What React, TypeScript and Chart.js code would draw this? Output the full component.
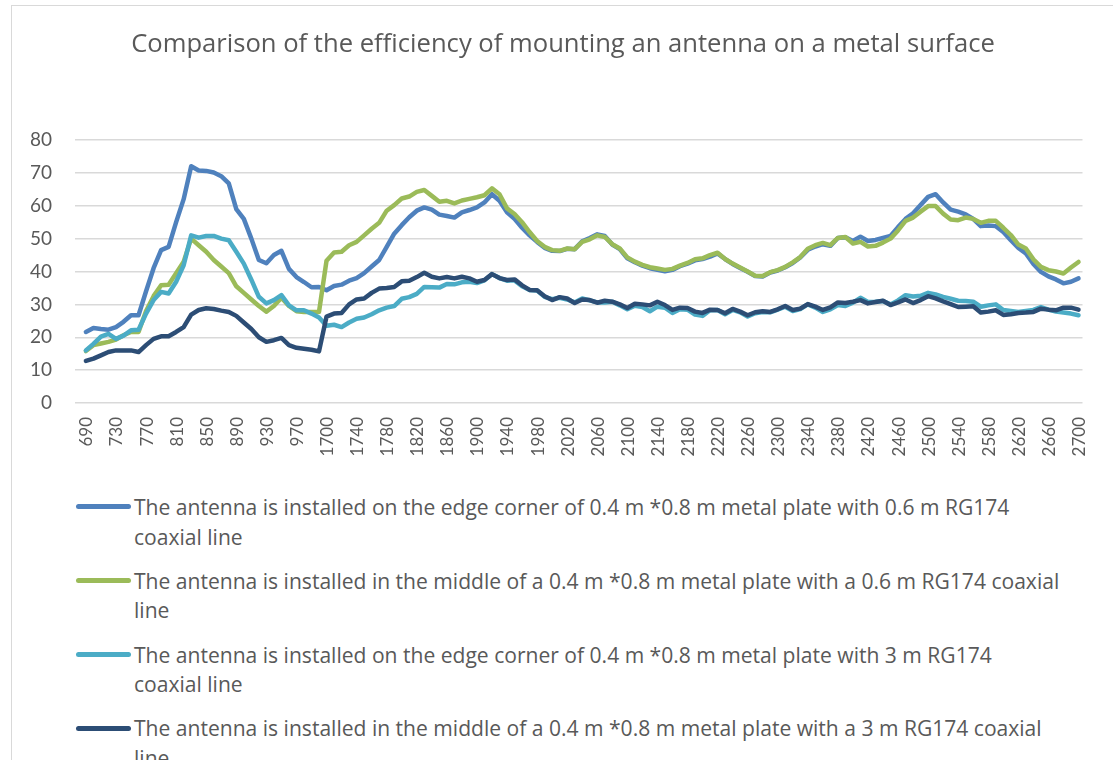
import React, { useEffect, useMemo, useRef } from "react";
import { Chart, registerables } from "chart.js";

Chart.register(...registerables);

const TITLE = "Comparison of the efficiency of mounting an antenna on a metal surface";

const FREQ = [
  690, 700, 710, 720, 730, 740, 750, 760, 770, 780,
  790, 800, 810, 820, 830, 840, 850, 860, 870, 880,
  890, 900, 910, 920, 930, 940, 950, 960, 970, 980,
  990, 1000,
  1700, 1710, 1720, 1730, 1740, 1750, 1760, 1770, 1780, 1790,
  1800, 1810, 1820, 1830, 1840, 1850, 1860, 1870, 1880, 1890,
  1900, 1910, 1920, 1930, 1940, 1950, 1960, 1970, 1980, 1990,
  2000, 2010, 2020, 2030, 2040, 2050, 2060, 2070, 2080, 2090,
  2100, 2110, 2120, 2130, 2140, 2150, 2160, 2170, 2180, 2190,
  2200, 2210, 2220, 2230, 2240, 2250, 2260, 2270, 2280, 2290,
  2300, 2310, 2320, 2330, 2340, 2350, 2360, 2370, 2380, 2390,
  2400, 2410, 2420, 2430, 2440, 2450, 2460, 2470, 2480, 2490,
  2500, 2510, 2520, 2530, 2540, 2550, 2560, 2570, 2580, 2590,
  2600, 2610, 2620, 2630, 2640, 2650, 2660, 2670, 2680, 2690,
  2700,
];

// edge corner, 0.6 m cable
const EDGE_06 = [
  21.6, 22.8, 22.5, 22.3, 23.1, 24.7, 26.7, 26.7, 34, 41,
  46.5, 47.5, 55, 62, 72, 70.7, 70.6, 70.1, 69, 66.8,
  59, 56, 50, 43.5, 42.5, 45, 46.3, 40.8, 38.3, 36.8,
  35.2, 35.3,
  34.3, 35.6, 36, 37.2, 38, 39.5, 41.5, 43.5, 47.5, 51.5,
  54.1, 56.5, 58.5, 59.5, 58.8, 57.3, 56.9, 56.4, 58, 58.7,
  59.5, 61, 63.5, 61.5, 58, 56, 53.3, 51, 49, 47.2,
  46.3, 46.2, 46.9, 46.8, 49.2, 50.2, 51.3, 50.8, 48.2, 46.8,
  44, 42.8, 41.8, 41, 40.5, 40.1, 40.5, 41.6, 42.4, 43.4,
  43.8, 44.5, 45.5, 43.8, 42.3, 41.1, 39.9, 38.6, 38.5, 39.7,
  40.3, 41.3, 42.6, 44.3, 46.6, 47.6, 48.3, 47.8, 50.2, 50.4,
  49.3, 50.6, 49.3, 49.6, 50.2, 50.8, 53.5, 56, 57.7, 60.2,
  62.7, 63.5, 61, 58.8, 58.2, 57.4, 56, 53.8, 54, 53.8,
  52, 49.5, 47.2, 45.5, 42.3, 39.9, 38.5, 37.6, 36.4, 36.9,
  37.9,
];

// middle, 0.6 m cable
const MID_06 = [
  15.8, 17.6, 18.1, 18.6, 19.3, 20.6, 21.6, 21.6, 28, 32.5,
  35.8, 36, 39.5, 43, 50, 48, 46, 43.5, 41.5, 39.5,
  35.5, 33.5, 31.5, 29.5, 27.8, 29.5, 32, 29.5, 27.9, 27.7,
  27.7, 27.7,
  43.3, 45.8, 46, 48, 49, 51, 53, 54.8, 58.5, 60.2,
  62.2, 62.8, 64.2, 64.8, 63, 61.2, 61.5, 60.7, 61.6, 62.1,
  62.6, 63.2, 65.3, 63.5, 59.2, 57.5, 55, 52, 49.3, 47.5,
  46.5, 46.3, 47, 46.8, 49, 49.8, 51, 50.5, 48.3, 47,
  44.3, 43, 42, 41.3, 40.9, 40.5, 40.8, 41.8, 42.6, 43.7,
  44, 45, 45.7, 43.8, 42.4, 41.2, 40, 38.7, 38.6, 39.8,
  40.4, 41.4, 42.8, 44.4, 46.9, 48, 48.7, 48, 50.2, 50.5,
  48.5, 49, 47.6, 47.8, 48.8, 50, 52.5, 55.4, 56.4, 58.2,
  59.9, 59.9, 57.6, 55.8, 55.6, 56.4, 56, 54.8, 55.4, 55.4,
  53.3, 51.1, 48.2, 47, 43.7, 41.4, 40.4, 40, 39.4, 41.2,
  42.9,
];

// edge corner, 3 m cable
const EDGE_3 = [
  16, 18, 20.2, 21, 19.5, 20.5, 22.1, 22.3, 27.2, 31.3,
  33.8, 33.3, 36.9, 41.9, 51, 50.3, 50.8, 50.8, 50, 49.5,
  46, 42.4, 37.5, 32.3, 30.3, 31.3, 32.8, 29.7, 28.2, 28.2,
  27.2, 26,
  23.5, 23.8, 23.1, 24.5, 25.6, 26, 27, 28.2, 29, 29.5,
  31.7, 32.2, 33.2, 35.3, 35.2, 35.1, 36.2, 36.1, 36.7, 36.9,
  36.5, 37.3, 39.2, 38, 37.2, 37.3, 35.5, 34.4, 34.2, 32.3,
  31.6, 32, 31.5, 30.6, 31.8, 31.2, 30.6, 30.6, 30.8, 29.7,
  28.5, 29.6, 29.2, 27.9, 29.3, 29, 27.4, 28.5, 28.4, 26.9,
  26.5, 28.2, 28.3, 27, 28.3, 27.6, 26.3, 27.3, 27.7, 27.6,
  28.4, 29.3, 28, 28.6, 30, 29, 27.7, 28.5, 29.8, 29.5,
  30.5, 32, 30.7, 30.8, 31, 30, 31.2, 32.8, 32.4, 32.6,
  33.5, 33, 32.3, 31.7, 31.1, 31, 30.8, 29.3, 29.7, 30,
  28.3, 28, 27.7, 28, 28.3, 29.2, 28.4, 27.8, 27.5, 27.2,
  26.7,
];

// middle, 3 m cable
const MID_3 = [
  12.8, 13.5, 14.5, 15.5, 16, 16, 16, 15.5, 17.6, 19.5,
  20.3, 20.3, 21.6, 23.1, 26.9, 28.3, 28.8, 28.6, 28.1, 27.7,
  26.5, 24.5, 22.5, 20, 18.6, 19.1, 19.8, 17.6, 16.8, 16.5,
  16.2, 15.7,
  26.3, 27.2, 27.4, 30, 31.5, 31.8, 33.5, 34.8, 35, 35.3,
  37, 37.2, 38.3, 39.6, 38.4, 37.9, 38.3, 37.9, 38.4, 37.9,
  36.9, 37.4, 39.2, 38, 37.4, 37.6, 35.8, 34.4, 34.3, 32.5,
  31.3, 32.2, 31.8, 30.4, 31.5, 31.3, 30.5, 31.1, 30.8, 30,
  28.9, 30.2, 30, 29.7, 30.8, 29.8, 28.3, 29, 28.9, 27.8,
  27.4, 28.4, 28.3, 27.3, 28.6, 27.8, 26.7, 27.6, 27.9, 27.7,
  28.5, 29.5, 28.3, 28.7, 30.1, 29.3, 28.3, 29.1, 30.6, 30.4,
  30.8, 31.3, 30.3, 30.7, 31.1, 29.8, 30.6, 31.5, 30.4, 31.3,
  32.5, 31.8, 30.9, 30.1, 29.2, 29.3, 29.4, 27.5, 27.8, 28.2,
  26.8, 27, 27.4, 27.5, 27.7, 28.7, 28.4, 28.2, 29, 29,
  28.4,
];

// legend labels, as wrapped in the original (two lines each)
const SERIES_LINES = [
  ["The antenna is installed on the edge corner of 0.4 m *0.8 m metal plate with 0.6 m RG174", "coaxial line"],
  ["The antenna is installed in the middle of a 0.4 m *0.8 m metal plate with a 0.6 m RG174 coaxial", "line"],
  ["The antenna is installed on the edge corner of 0.4 m *0.8 m metal plate with 3 m RG174", "coaxial line"],
  ["The antenna is installed in the middle of a 0.4 m *0.8 m metal plate with a 3 m RG174 coaxial", "line"],
];

const COLORS = ["#4F81BD", "#9BBB59", "#4BACC6", "#2C4D75"];
const LABEL_STEP = 4;
const Y_MIN = 0;
const Y_MAX = 80;
const Y_STEP = 10;

const TEXT = "#595959";
const TICK_FONT = "Lato, 'Open Sans', sans-serif";
const TEXT_FONT = "'Open Sans', Lato, sans-serif";

function fitFontSize(text: string, family: string, target: number, fallback: number) {
  try {
    const c = document.createElement("canvas").getContext("2d");
    if (!c) return fallback;
    c.font = `100px ${family}`;
    const w = c.measureText(text).width;
    if (!w) return fallback;
    return (target / w) * 100;
  } catch (e) {
    return fallback;
  }
}

export default function App() {
  const ref = useRef<HTMLCanvasElement | null>(null);

  const titleSize = useMemo(() => fitFontSize(TITLE, TEXT_FONT, 864, 25), []);
  const legendSize = useMemo(() => fitFontSize(SERIES_LINES[0][0], TEXT_FONT, 876, 20.5), []);

  useEffect(() => {
    if (!ref.current) return;
    const series = [EDGE_06, MID_06, EDGE_3, MID_3];
    const chart = new Chart(ref.current, {
      type: "line",
      data: {
        datasets: series.map((s, k) => ({
          label: SERIES_LINES[k].join(" "),
          data: s.map((v, i) => ({ x: i, y: v })),
          borderColor: COLORS[k],
          backgroundColor: COLORS[k],
          borderWidth: 4.5,
          pointRadius: 0,
          pointHoverRadius: 0,
          tension: 0,
          borderJoinStyle: "round" as const,
          borderCapStyle: "round" as const,
          order: series.length - 1 - k,
        })),
      },
      options: {
        responsive: false,
        animation: false,
        devicePixelRatio: 1,
        events: [],
        layout: { padding: { left: 0, right: 24, top: 140, bottom: 0 } },
        plugins: {
          legend: { display: false },
          tooltip: { enabled: false },
          title: { display: false },
        },
        scales: {
          x: {
            type: "linear",
            min: -1.45,
            max: FREQ.length - 1 + 0.53,
            grid: { display: false, drawTicks: false },
            border: { display: false },
            afterBuildTicks: (scale: any) => {
              scale.ticks = FREQ.map((_, i) => i)
                .filter((i) => i % LABEL_STEP === 0)
                .map((i) => ({ value: i }));
            },
            afterFit: (scale: any) => {
              scale.height = 77;
            },
            ticks: {
              autoSkip: false,
              maxRotation: 90,
              minRotation: 90,
              padding: 14,
              labelOffset: 1,
              color: TEXT,
              font: { family: TICK_FONT, size: 17 },
              callback: (v: any) => String(FREQ[Math.round(Number(v))] ?? ""),
            },
          },
          y: {
            min: Y_MIN,
            max: Y_MAX,
            grid: { color: "#d9d9d9", lineWidth: 1.5, drawTicks: false },
            border: { display: false },
            afterFit: (scale: any) => {
              scale.width = 75;
            },
            ticks: {
              stepSize: Y_STEP,
              padding: 23,
              color: TEXT,
              font: { family: TICK_FONT, size: 19 },
            },
          },
        },
      },
    });
    return () => chart.destroy();
  }, []);

  const titleLH = titleSize * 1.25;
  const legendLH = 29.4;

  return (
    <div
      style={{
        position: "absolute",
        left: 0,
        top: 0,
        width: 1113,
        height: 760,
        overflow: "hidden",
        background: "#ffffff",
      }}
    >
      <div
        style={{
          position: "absolute",
          left: 11,
          top: 5,
          width: 1200,
          height: 900,
          borderLeft: "1.5px solid #d9d9d9",
          borderTop: "1.5px solid #d9d9d9",
        }}
      />
      <canvas
        ref={ref}
        width={1113}
        height={480}
        style={{ position: "absolute", left: 0, top: 0, width: 1113, height: 480 }}
      />
      <div
        style={{
          position: "absolute",
          left: 0,
          width: 1126,
          top: 43 - titleLH / 2,
          textAlign: "center",
          whiteSpace: "nowrap",
          fontFamily: TEXT_FONT,
          fontSize: titleSize,
          lineHeight: `${titleLH}px`,
          color: TEXT,
        }}
      >
        {TITLE}
      </div>
      <div
        style={{
          position: "absolute",
          left: 76,
          top: 507 - legendLH / 2,
          fontFamily: TEXT_FONT,
          fontSize: legendSize,
          lineHeight: `${legendLH}px`,
          color: TEXT,
        }}
      >
        {SERIES_LINES.map((lines, k) => (
          <div key={k} style={{ display: "flex", marginBottom: 73.7 - 2 * legendLH }}>
            <div
              style={{ width: 55, marginRight: 3, height: legendLH, position: "relative", flex: "none" }}
            >
              <div
                style={{
                  position: "absolute",
                  left: 0,
                  right: 0,
                  top: legendLH / 2 - 2.5,
                  height: 5,
                  borderRadius: 2.5,
                  background: COLORS[k],
                }}
              />
            </div>
            <div style={{ whiteSpace: "nowrap" }}>
              {lines.map((ln, j) => (
                <div key={j}>{ln}</div>
              ))}
            </div>
          </div>
        ))}
      </div>
    </div>
  );
}
